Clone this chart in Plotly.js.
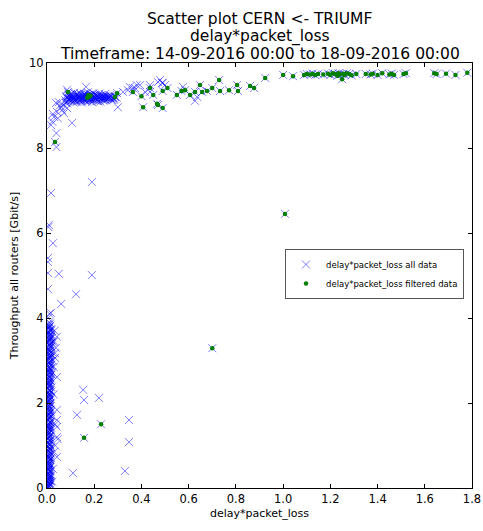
<!DOCTYPE html>
<html>
<head>
<meta charset="utf-8">
<script src="https://cdn.plot.ly/plotly-3.0.1.min.js"></script>
<style>html,body{margin:0;padding:0;background:#fff;}#chart{width:483px;height:531px;}</style>
</head>
<body>
<div id="chart"></div>
<script>
// Title lines
const titleLines = ["Scatter plot CERN <- TRIUMF", "delay*packet_loss", "Timeframe: 14-09-2016 00:00 to 18-09-2016 00:00"];
const xLabel = "delay*packet_loss";
const yLabel = "Throughput all routers [Gbit/s]";
const seriesNames = ["delay*packet_loss all data", "delay*packet_loss filtered data"];

// Dense column of points near x = 0 (all data only)
const colX = [0.003,0.009,0.014,0.005,0.011,0.002,0.016,0.007,0.012,0.004,0.018,0.008,0.001,0.013,0.006,0.010,0.003,0.015,0.007,0.011,0.002,0.017,0.005,0.009,0.013,0.004,0.008,0.019,0.002,0.011,0.006,0.014,0.003,0.009,0.016,0.005,0.012,0.001,0.008,0.018,0.004,0.010,0.014,0.006,0.002,0.012,0.020,0.007,0.003,0.010,0.015,0.005,0.009,0.001,0.013,0.006,0.017,0.004,0.011,0.008,0.002,0.014,0.006,0.019,0.010,0.003,0.007,0.015,0.005,0.012,0.001,0.009,0.022,0.004,0.013,0.007,0.016,0.002,0.010,0.024,0.006,0.014,0.003,0.011,0.020,0.008,0.004,0.017,0.012,0.002,0.025,0.007,0.015,0.004,0.019,0.010,0.003,0.013,0.006,0.009,0.002,0.005];
const colY = [0.02,0.04,0.07,0.10,0.12,0.15,0.17,0.20,0.24,0.27,0.30,0.33,0.37,0.41,0.44,0.48,0.52,0.55,0.60,0.64,0.68,0.71,0.75,0.79,0.84,0.88,0.92,0.95,0.99,1.03,1.07,1.11,1.15,1.19,1.23,1.27,1.31,1.35,1.39,1.42,1.46,1.50,1.54,1.58,1.62,1.66,1.69,1.73,1.77,1.81,1.85,1.89,1.93,1.97,2.01,2.05,2.09,2.13,2.17,2.21,2.25,2.29,2.33,2.37,2.41,2.45,2.49,2.53,2.57,2.61,2.65,2.69,2.72,2.76,2.80,2.84,2.88,2.92,2.96,3.00,3.04,3.08,3.12,3.16,3.20,3.24,3.28,3.32,3.36,3.40,3.44,3.48,3.52,3.56,3.60,3.64,3.68,3.72,3.76,3.80,3.84,4.00];
const col2X = [0.007,0.001,0.011,0.004,0.013,0.008,0.002,0.015,0.006,0.010,
  0.003,0.012,0.008,0.001,0.014,0.005,0.009,0.002,0.013,0.006,
  0.010,0.003,0.016,0.007,0.001,0.011,0.005,0.013,0.009,0.002,
  0.015,0.006,0.010,0.003,0.012,0.007,0.016,0.004,0.011,0.001,
  0.008,0.014,0.005,0.010,0.002,0.013,0.006,0.017,0.009,0.003,
  0.012,0.007,0.015,0.004,0.010,0.001,0.014,0.008,0.005,0.018,
  0.011,0.003,0.009,0.013,0.006,0.016,0.002,0.010,0.007,0.020,
  0.004,0.012,0.008,0.015,0.003,0.018,0.006,0.011,0.001,0.014,
  0.009,0.021,0.005,0.013,0.002,0.010,0.016,0.007,0.019,0.004,
  0.012,0.022,0.008,0.015,0.003,0.011,0.018,0.006,0.014,0.009];
const col2Y = [0.01,0.06,0.09,0.13,0.16,0.19,0.22,0.26,0.29,0.32,
  0.35,0.39,0.43,0.46,0.50,0.54,0.57,0.62,0.66,0.70,
  0.73,0.77,0.81,0.86,0.90,0.94,0.97,1.01,1.05,1.09,
  1.13,1.17,1.21,1.25,1.29,1.33,1.37,1.41,1.44,1.48,
  1.52,1.56,1.60,1.64,1.68,1.71,1.75,1.79,1.83,1.87,
  1.91,1.95,1.99,2.03,2.07,2.11,2.15,2.19,2.23,2.27,
  2.31,2.35,2.39,2.43,2.47,2.51,2.55,2.59,2.63,2.67,
  2.70,2.74,2.78,2.82,2.86,2.90,2.94,2.98,3.02,3.06,
  3.10,3.14,3.18,3.22,3.26,3.30,3.34,3.38,3.42,3.46,
  3.50,3.54,3.58,3.62,3.66,3.70,3.74,3.78,3.82,3.90];
const col3X = [0.005,0.009,0.002,0.012,0.006,0.010,0.004,0.008,0.013,0.003,
  0.007,0.011,0.005,0.009,0.002,0.012,0.006,0.010,0.004,0.014,
  0.008,0.003,0.011,0.006,0.009,0.013,0.005,0.002,0.010,0.007,
  0.012,0.004,0.008,0.011,0.006,0.003,0.014,0.009,0.005,0.010,
  0.007,0.013,0.002,0.008,0.011,0.005,0.009,0.012,0.004,0.007,
  0.010,0.006,0.014,0.003,0.009,0.012,0.005,0.008,0.011,0.006,
  0.013,0.004,0.009,0.007,0.012,0.005,0.010,0.015,0.008,0.003,
  0.011,0.006,0.013,0.009,0.004,0.012,0.007,0.016,0.010,0.005,
  0.014,0.008,0.003,0.011,0.006,0.017,0.009,0.013,0.005,0.010,
  0.007,0.015,0.012,0.004,0.009,0.018,0.006,0.011,0.008,0.013];
const col3Y = [0.03,0.05,0.08,0.11,0.14,0.18,0.21,0.25,0.28,0.31,
  0.34,0.38,0.42,0.45,0.49,0.53,0.56,0.59,0.63,0.67,
  0.72,0.74,0.78,0.83,0.87,0.91,0.96,1.00,1.04,1.08,
  1.12,1.16,1.20,1.24,1.28,1.32,1.36,1.40,1.43,1.47,
  1.51,1.55,1.59,1.63,1.67,1.70,1.74,1.78,1.82,1.86,
  1.90,1.94,1.98,2.02,2.06,2.10,2.14,2.18,2.22,2.26,
  2.30,2.34,2.38,2.42,2.46,2.50,2.54,2.58,2.62,2.66,
  2.71,2.75,2.79,2.83,2.87,2.91,2.95,2.99,3.03,3.07,
  3.11,3.15,3.19,3.23,3.27,3.31,3.35,3.39,3.43,3.47,
  3.51,3.55,3.59,3.63,3.67,3.71,3.75,3.79,3.83,3.87];

// Scattered low / middle points (all data only)
const lowX = [0.042,0.034,0.034,0.030,0.032,0.038,0.042,0.028,0.042,0.042,0.035,0.042,0.042,0.045,0.035,0.042,0.030,0.028,0.025,0.022,0.153,0.157,0.220,0.127,0.347,0.347,0.110,0.330,0.190,0.017,0.008,0.006,0.025,0.004,0.004,0.004,0.050,0.190,0.004,0.123,0.060,0.017,0.010];
const lowY = [3.56,3.17,3.06,3.45,3.70,3.30,2.61,2.85,1.84,1.60,1.50,1.44,1.20,1.15,1.00,0.73,0.85,2.20,0.45,0.15,2.31,2.07,2.12,1.72,1.60,1.08,0.35,0.40,7.20,6.94,6.19,6.14,5.76,5.41,5.32,5.06,5.04,5.01,4.68,4.56,4.33,4.12,4.10];

// Main cluster near (0.1-0.3, 9.2) plus rising leg (all data only)
const clusterX = [0.078,0.082,0.086,0.090,0.093,0.097,0.101,0.104,0.108,0.111,0.115,0.118,0.121,0.125,0.128,0.131,0.134,0.138,0.141,0.144,0.147,0.151,0.154,0.157,0.160,0.163,0.167,0.170,0.173,0.176,0.180,0.183,0.186,0.190,0.193,0.196,0.200,0.203,0.207,0.210,0.214,0.218,0.222,0.226,0.230,0.234,0.238,0.242,0.246,0.250,0.255,0.260,0.265,0.270,0.276,0.282,0.288,0.295,0.100,0.120,0.140,0.160,0.180,0.200,0.220,0.240,0.130,0.170,0.190,0.210,0.250,0.150,0.110,0.090,0.085,0.095,0.230,0.270,
0.022,0.030,0.042,0.059,0.064,0.080,0.038,0.050,0.072,0.085,0.017,0.025,0.046,0.055,0.068,0.040,0.040,0.106,0.165,0.085,
0.300,0.246,0.350,0.373,0.394,0.436,0.470,0.487,0.500,0.436,0.415,0.322,0.343,0.636,0.576,0.364,0.380,0.479,0.490,0.627];
const clusterY = [9.12,9.22,9.05,9.28,9.15,9.20,9.10,9.25,9.17,9.08,9.30,9.13,9.21,9.26,9.09,9.18,9.23,9.12,9.29,9.16,9.07,9.22,9.14,9.27,9.19,9.10,9.24,9.15,9.31,9.20,9.11,9.26,9.17,9.08,9.22,9.29,9.13,9.19,9.25,9.11,9.21,9.16,9.28,9.09,9.20,9.24,9.14,9.19,9.27,9.12,9.21,9.17,9.24,9.15,9.20,9.13,9.22,9.18,9.17,9.14,9.20,9.13,9.19,9.22,9.18,9.11,9.27,9.09,9.25,9.16,9.18,9.18,9.20,9.14,9.18,9.24,9.15,9.22,
8.62,8.73,8.85,8.96,8.89,9.06,9.06,9.08,8.82,8.94,8.54,8.80,8.70,9.00,9.02,8.35,8.02,8.59,9.44,9.37,
8.96,9.20,9.44,9.41,9.48,9.32,9.55,9.53,9.48,9.48,9.32,9.32,9.36,9.20,9.44,9.41,9.48,9.60,9.53,9.11];
const cluster2X = [0.083,0.088,0.092,0.098,0.103,0.107,0.112,0.117,0.122,0.127,
  0.132,0.136,0.142,0.146,0.152,0.156,0.161,0.166,0.171,0.177,
  0.182,0.187,0.192,0.197,0.202,0.208,0.213,0.217,0.223,0.228,
  0.233,0.239,0.244,0.249,0.256,0.262,0.268,0.274,0.280,0.105,
  0.125,0.145,0.165,0.185,0.205,0.225,0.245,0.115,0.135,0.155,
  0.175,0.195,0.215,0.235,0.263,0.285];
const cluster2Y = [9.19,9.10,9.23,9.14,9.27,9.12,9.22,9.18,9.09,9.24,
  9.15,9.20,9.26,9.11,9.17,9.21,9.28,9.14,9.19,9.23,
  9.16,9.21,9.13,9.18,9.26,9.15,9.22,9.10,9.19,9.24,
  9.17,9.21,9.15,9.23,9.16,9.20,9.18,9.13,9.17,9.21,
  9.16,9.13,9.22,9.14,9.18,9.22,9.20,9.12,9.19,9.24,
  9.17,9.15,9.23,9.20,9.19,9.16];

// Filtered data (shown in both series)
const filtX = [0.034,0.089,0.170,0.178,0.185,0.175,0.288,0.297,0.364,0.400,0.407,0.436,0.450,0.466,0.470,0.490,0.490,0.510,0.550,0.570,0.585,0.606,0.627,0.648,0.657,0.678,0.700,0.729,0.733,0.771,0.805,0.809,0.860,0.877,0.924,1.000,
1.042,1.089,1.100,1.114,1.125,1.136,1.148,1.170,1.190,1.200,1.210,1.220,1.230,1.235,1.240,1.250,1.255,1.260,1.270,1.280,1.290,1.310,1.350,1.370,1.380,1.400,1.420,1.450,1.460,1.470,1.510,1.520,1.640,1.650,1.690,1.730,1.780,
0.157,0.229,0.700,1.008];
const filtY = [8.14,9.32,9.18,9.20,9.23,9.25,9.20,9.29,9.32,9.22,8.96,9.41,9.25,9.04,9.01,9.34,8.94,9.41,9.25,9.34,9.36,9.25,9.32,9.48,9.32,9.34,9.41,9.60,9.34,9.36,9.48,9.34,9.46,9.41,9.65,9.72,
9.69,9.72,9.74,9.73,9.75,9.72,9.74,9.73,9.75,9.72,9.76,9.74,9.70,9.76,9.73,9.62,9.75,9.72,9.76,9.74,9.71,9.74,9.74,9.73,9.75,9.72,9.76,9.73,9.75,9.72,9.74,9.76,9.76,9.74,9.75,9.72,9.77,
1.18,1.50,3.29,6.45];

const xTickVals = [0,0.2,0.4,0.6,0.8,1.0,1.2,1.4,1.6,1.8];
const yTickVals = [0,2,4,6,8,10];

const allX = colX.concat(col2X, col3X, lowX, clusterX, cluster2X, filtX);
const allY = colY.concat(col2Y, col3Y, lowY, clusterY, cluster2Y, filtY);

const FONT = "DejaVu Sans, sans-serif";

const traces = [
  {
    x: allX, y: allY, name: seriesNames[0], type: "scatter", mode: "markers",
    marker: {symbol: "x-thin", size: 8, color: "rgba(0,0,255,0.5)", line: {width: 1, color: "rgba(0,0,255,0.5)"}}
  },
  {
    x: filtX, y: filtY, name: seriesNames[1], type: "scatter", mode: "markers",
    marker: {symbol: "circle", size: 4.5, color: "#007f00", line: {width: 0}}
  }
];

const axisCommon = {
  ticks: "inside", ticklen: 4, tickwidth: 1, tickcolor: "#000",
  mirror: "allticks", showline: true, linecolor: "#000", linewidth: 1,
  showgrid: false, zeroline: false,
  tickfont: {family: FONT, size: 11.5, color: "#000"}
};

const layout = {
  width: 483, height: 531, autosize: false,
  margin: {l: 47, r: 11, t: 63, b: 43},
  paper_bgcolor: "#fff", plot_bgcolor: "#fff",
  font: {family: FONT, color: "#000"},
  showlegend: true,
  legend: {
    x: 0.56, y: 0.5035, xanchor: "left", yanchor: "middle",
    bgcolor: "#fff", bordercolor: "#555", borderwidth: 1,
    font: {family: FONT, size: 8.5, color: "#000"},
    itemwidth: 30, tracegroupgap: 0
  },
  xaxis: Object.assign({}, axisCommon, {
    range: [0, 1.8], tickvals: xTickVals, tickformat: ".1f",
    title: {text: xLabel, font: {family: FONT, size: 11, color: "#000"}, standoff: 4}
  }),
  yaxis: Object.assign({}, axisCommon, {
    range: [0, 10], tickvals: yTickVals,
    title: {text: yLabel, font: {family: FONT, size: 11, color: "#000"}, standoff: 8}
  }),
  annotations: titleLines.map((t, i) => ({
    text: t, xref: "paper", yref: "paper", x: 0.5, y: [1.104, 1.063, 1.020][i],
    xanchor: "center", yanchor: "middle", showarrow: false,
    font: {family: FONT, size: 15.5, color: "#000"}
  }))
};

Plotly.newPlot("chart", traces, layout, {displayModeBar: false, staticPlot: true});
</script>
</body>
</html>
